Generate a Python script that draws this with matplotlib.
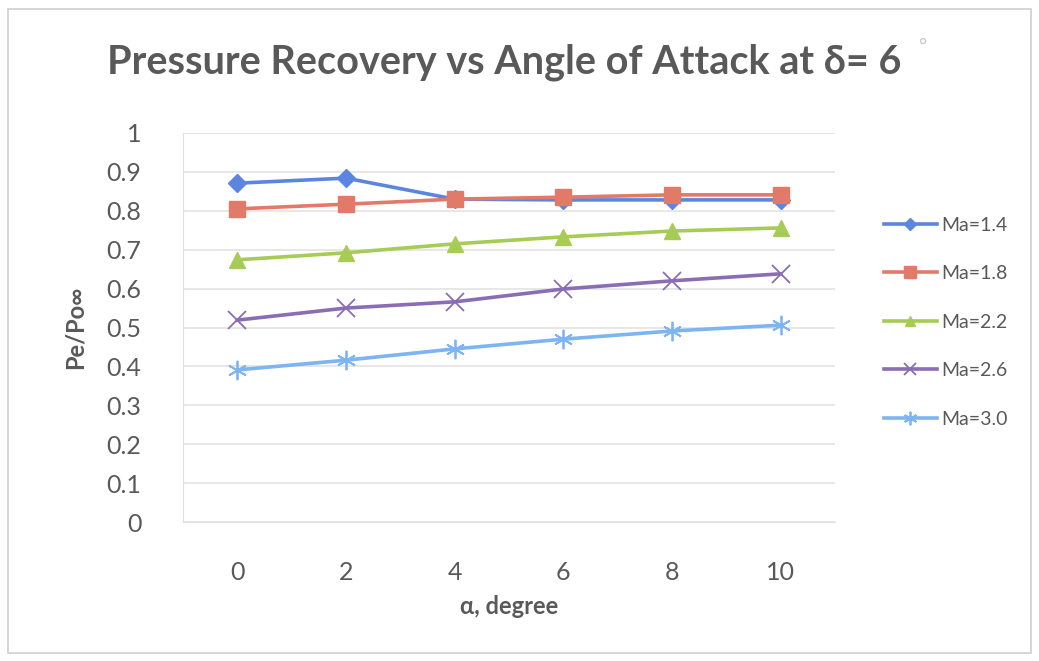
import matplotlib.pyplot as plt
from matplotlib.patches import Rectangle

alpha_deg = ["0", "2", "4", "6", "8", "10"]
ma_14 = [0.871, 0.884, 0.830, 0.828, 0.828, 0.828]
ma_18 = [0.805, 0.817, 0.830, 0.835, 0.841, 0.841]
ma_22 = [0.674, 0.692, 0.715, 0.733, 0.748, 0.756]
ma_26 = [0.519, 0.550, 0.566, 0.599, 0.620, 0.638]
ma_30 = [0.391, 0.416, 0.445, 0.470, 0.491, 0.506]
labels = ["Ma=1.4", "Ma=1.8", "Ma=2.2", "Ma=2.6", "Ma=3.0"]

plt.rcParams["font.family"] = ["Lato", "DejaVu Sans"]
text_col = "#595959"

fig = plt.figure(figsize=(10.39, 6.61), dpi=100)
fig.patches.append(Rectangle((0.008, 0.012), 0.984, 0.975, transform=fig.transFigure,
                             fill=False, edgecolor="#d0d0d0", linewidth=1.2))

ax = fig.add_axes([183 / 1039, 1 - 522 / 661, (835 - 183) / 1039, (522 - 133) / 661])

x = list(range(len(alpha_deg)))
series = [ma_14, ma_18, ma_22, ma_26, ma_30]
colors = ["#5B86E0", "#E27A6A", "#A6CC55", "#8A6DB5", "#7DB4F2"]
markers = ["D", "s", "^", "x", (6, 2, 0)]
sizes = [9, 12, 11, 13, 14]

for vals, lab, c, m, s in zip(series, labels, colors, markers, sizes):
    ax.plot(x, vals, color=c, linewidth=2.6, marker=m, markersize=s,
            markeredgewidth=1.0 if m in ("D", "s", "^") else 1.3,
            markerfacecolor=c, markeredgecolor=c, label=lab)

ax.set_xlim(-0.5, 5.5)
ax.set_ylim(0, 1)
ax.set_xticks(x)
ax.set_xticklabels(alpha_deg)
ax.set_yticks([i / 10 for i in range(11)])
ax.set_yticklabels(["0", "0.1", "0.2", "0.3", "0.4", "0.5", "0.6", "0.7", "0.8", "0.9", "1"])
ax.grid(axis="y", color="#e3e3e3", linewidth=1.2)
ax.set_axisbelow(True)
for side in ["top", "right"]:
    ax.spines[side].set_visible(False)
ax.spines["left"].set_color("#e0e0e0")
ax.spines["bottom"].set_color("#e0e0e0")
ax.tick_params(axis="both", length=0, labelsize=18, labelcolor=text_col)
ax.tick_params(axis="x", pad=28)
ax.tick_params(axis="y", pad=30)

ax.set_xlabel("α, degree", fontsize=17, fontweight="bold", color=text_col, labelpad=8)
ax.set_ylabel("Pe/Po∞", fontsize=17, fontweight="bold", color=text_col, labelpad=14)

fig.text(107 / 1039, 1 - 62 / 661, "Pressure Recovery vs Angle of Attack at δ= 6",
         fontsize=28.5, fontweight="bold", color=text_col, va="center", ha="left")
fig.text(918 / 1039, 1 - 46 / 661, "°", fontsize=14, color="#c8c8c8", va="center")

leg = fig.legend(loc="upper left", bbox_to_anchor=(866 / 1039, 1 - 199 / 661),
                 frameon=False, fontsize=14, labelspacing=1.62, handlelength=2.75,
                 handletextpad=0.2, markerscale=0.7)
for t in leg.get_texts():
    t.set_color(text_col)

fig.savefig("out.png", dpi=100)
